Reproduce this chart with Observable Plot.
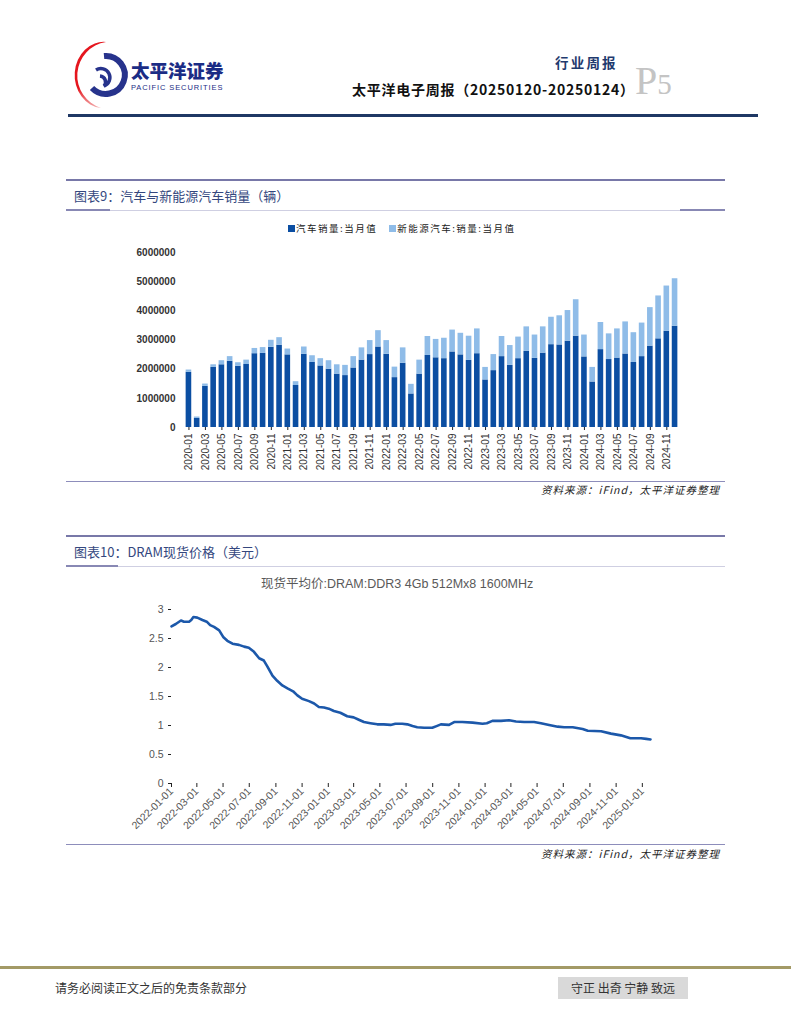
<!DOCTYPE html>
<html><head><meta charset="utf-8">
<script src="https://cdn.jsdelivr.net/npm/d3@7"></script>
<script src="https://cdn.jsdelivr.net/npm/@observablehq/plot@0.6"></script>
<style>
body{margin:0;width:791px;height:1024px;position:relative;background:#fff;font-family:"Noto Sans CJK SC",sans-serif;overflow:hidden}
.a{position:absolute;white-space:nowrap}
.sec{color:#34477e;font-size:13px;line-height:13px}
.src{font-style:italic;font-size:10.5px;line-height:11px;letter-spacing:1px;color:#222;font-family:"Noto Sans CJK SC",sans-serif}
</style></head><body>

<svg class="a" style="left:70px;top:38px" width="70" height="75" viewBox="70 38 70 75">
  <defs><linearGradient id="rg" x1="0" y1="0" x2="0" y2="1">
    <stop offset="0" stop-color="#e5161e"/><stop offset="0.7" stop-color="#e5161e"/><stop offset="1" stop-color="#f3b0b0"/></linearGradient></defs>
  <path d="M106 42 A34 34 0 0 0 101 108 A27 31 0 0 1 106 42 Z" fill="url(#rg)"/>
  <path d="M104 56 A19 19 0 1 1 92 88" fill="none" stroke="#27338c" stroke-width="6"/>
  <path d="M96 70 A9 9 0 1 1 104 86 A6 6 0 0 0 100 76" fill="none" stroke="#27338c" stroke-width="3.5"/>
</svg>
<div class="a" style="left:131px;top:61px;font-size:18.5px;line-height:19px;font-weight:900;color:#1b2c85">太平洋证券</div>
<div class="a" style="left:131px;top:84px;font-size:7.5px;line-height:8px;letter-spacing:0.9px;color:#1b2c85;font-family:'Liberation Sans',sans-serif">PACIFIC SECURITIES</div>

<div class="a" style="left:555px;top:55px;font-size:13.5px;line-height:14px;letter-spacing:2.2px;font-weight:700;color:#1f3a6e">行业周报</div>
<div class="a" style="left:352px;top:82px;font-size:14px;line-height:15px;letter-spacing:0.75px;font-weight:700;color:#111">太平洋电子周报（20250120-20250124）</div>
<div class="a" style="left:635px;top:60px;font-family:'Liberation Serif',serif;color:#c4c4c4;font-size:40px;line-height:42px">P<span style="font-size:29px">5</span></div>
<div class="a" style="left:68px;top:114px;width:690px;height:3px;background:#1f3864"></div>

<!-- section 1 -->
<div class="a" style="left:66px;top:179px;width:659px;height:2px;background:#7878a8"></div>
<div class="a sec" style="left:74px;top:189px">图表9：汽车与新能源汽车销量（辆）</div>
<div class="a" style="left:66px;top:210px;width:659px;height:1px;background:#cfcfe2"></div>
<div class="a" style="left:66px;top:209px;width:44px;height:2px;background:#8888b4"></div>
<div class="a" style="left:680px;top:209px;width:45px;height:2px;background:#8888b4"></div>
<div id="legend" class="a" style="left:288px;top:223px;font-size:9.5px;line-height:10px;letter-spacing:1.5px;color:#222"></div>
<div id="c1" class="a" style="left:0;top:240px"></div>
<div class="a" style="left:66px;top:481px;width:659px;height:1px;background:#8d8dbb"></div>
<div class="a src" style="right:71px;top:484px">资料来源：iFind，太平洋证券整理</div>

<!-- section 2 -->
<div class="a" style="left:66px;top:535px;width:659px;height:2px;background:#7878a8"></div>
<div class="a sec" style="left:74px;top:545px">图表10：DRAM现货价格（美元）</div>
<div class="a" style="left:66px;top:566px;width:659px;height:1px;background:#cfcfe2"></div>
<div class="a" style="left:66px;top:565px;width:52px;height:2px;background:#8888b4"></div>
<div id="t2" class="a" style="left:261px;top:578px;font-size:12.5px;line-height:13px;color:#595959;font-family:'Liberation Sans','Noto Sans CJK SC',sans-serif"></div>
<div id="c2" class="a" style="left:0;top:595px"></div>
<div class="a" style="left:66px;top:844px;width:659px;height:1px;background:#8d8dbb"></div>
<div class="a src" style="right:71px;top:848px">资料来源：iFind，太平洋证券整理</div>

<!-- footer -->
<div class="a" style="left:0;top:966px;width:791px;height:3px;background:#a39a66"></div>
<div class="a" style="left:55px;top:981px;font-size:12px;line-height:13px;color:#333">请务必阅读正文之后的免责条款部分</div>
<div class="a" style="left:558px;top:977px;width:130px;height:22px;background:#d9d9d9;font-size:12px;line-height:22px;color:#333;text-align:center">守正 出奇 宁静 致远</div>

<script>
// ---------- Chart 1 data ----------
const months = [
 "2020-01","2020-02","2020-03","2020-04","2020-05","2020-06","2020-07","2020-08","2020-09","2020-10","2020-11","2020-12",
 "2021-01","2021-02","2021-03","2021-04","2021-05","2021-06","2021-07","2021-08","2021-09","2021-10","2021-11","2021-12",
 "2022-01","2022-02","2022-03","2022-04","2022-05","2022-06","2022-07","2022-08","2022-09","2022-10","2022-11","2022-12",
 "2023-01","2023-02","2023-03","2023-04","2023-05","2023-06","2023-07","2023-08","2023-09","2023-10","2023-11","2023-12",
 "2024-01","2024-02","2024-03","2024-04","2024-05","2024-06","2024-07","2024-08","2024-09","2024-10","2024-11","2024-12"];
const autoSales = [
 1890000,310000,1410000,2060000,2150000,2270000,2100000,2160000,2530000,2540000,2750000,2820000,
 2490000,1440000,2510000,2230000,2110000,2000000,1830000,1780000,2040000,2310000,2500000,2760000,
 2510000,1710000,2200000,1150000,1830000,2470000,2390000,2360000,2590000,2490000,2300000,2530000,
 1630000,1950000,2430000,2130000,2360000,2610000,2370000,2550000,2840000,2830000,2960000,3130000,
 2420000,1560000,2670000,2330000,2380000,2520000,2230000,2430000,2790000,3040000,3300000,3470000];
const nevSales = [
 80000,50000,80000,90000,140000,160000,120000,150000,180000,200000,240000,260000,
 200000,130000,250000,230000,250000,290000,320000,350000,390000,420000,480000,560000,
 470000,360000,530000,330000,480000,650000,630000,700000,750000,740000,830000,850000,
 430000,550000,690000,680000,740000,840000,800000,900000,940000,1000000,1050000,1250000,
 750000,500000,930000,880000,1000000,1100000,1020000,1150000,1320000,1470000,1550000,1630000];
const seriesNames = ["汽车销量:当月值", "新能源汽车:销量:当月值"];
const seriesColors = ["#0b4ea2", "#8fbce8"];
const yTicks1 = [0,1000000,2000000,3000000,4000000,5000000,6000000];
const xTickLabels1 = months.filter((m,i)=> i % 2 === 0);

// ---------- Chart 2 data ----------
const chart2Title = "现货平均价:DRAM:DDR3 4Gb 512Mx8 1600MHz";
const dramDates = ["2022-01-01","2022-01-11","2022-01-23","2022-01-30","2022-02-11","2022-02-16","2022-02-21","2022-03-02","2022-03-14","2022-03-24",
 "2022-04-01","2022-04-10","2022-04-22","2022-05-02","2022-05-11","2022-05-23","2022-06-07","2022-06-19","2022-06-30","2022-07-12",
 "2022-07-24","2022-08-04","2022-08-12","2022-08-24","2022-09-04","2022-09-16","2022-09-28","2022-10-11","2022-10-21","2022-11-01",
 "2022-11-17","2022-11-29","2022-12-10","2022-12-22","2023-01-02","2023-01-14","2023-01-29","2023-02-14","2023-03-01","2023-03-13",
 "2023-03-25","2023-04-09","2023-04-25","2023-05-10","2023-05-26","2023-06-06","2023-06-22","2023-07-04","2023-07-16","2023-07-27",
 "2023-08-12","2023-08-31","2023-09-10","2023-09-20","2023-10-09","2023-10-21","2023-11-09","2023-12-03","2023-12-26","2024-01-05",
 "2024-01-18","2024-02-07","2024-02-26","2024-03-13","2024-04-01","2024-04-24","2024-05-10","2024-05-29","2024-06-18","2024-07-03",
 "2024-07-23","2024-08-15","2024-08-27","2024-09-27","2024-10-20","2024-11-12","2024-12-04","2024-12-29","2025-01-10","2025-01-20"];
const dramPrices = [2.71,2.75,2.81,2.79,2.79,2.82,2.87,2.86,2.82,2.79,
 2.73,2.70,2.64,2.52,2.46,2.41,2.39,2.36,2.34,2.27,
 2.16,2.12,2.02,1.86,1.77,1.69,1.64,1.59,1.52,1.46,
 1.42,1.38,1.32,1.31,1.29,1.25,1.22,1.16,1.14,1.10,
 1.06,1.04,1.02,1.02,1.01,1.03,1.03,1.02,0.99,0.97,
 0.96,0.96,0.99,1.02,1.01,1.06,1.06,1.05,1.03,1.04,
 1.08,1.08,1.09,1.07,1.06,1.06,1.04,1.01,0.98,0.97,
 0.97,0.94,0.91,0.90,0.86,0.83,0.78,0.78,0.77,0.76];
const yTicks2 = [0,0.5,1,1.5,2,2.5,3];
const xTickLabels2 = ["2022-01-01","2022-03-01","2022-05-01","2022-07-01","2022-09-01","2022-11-01",
 "2023-01-01","2023-03-01","2023-05-01","2023-07-01","2023-09-01","2023-11-01",
 "2024-01-01","2024-03-01","2024-05-01","2024-07-01","2024-09-01","2024-11-01","2025-01-01"];
const xDomain2 = ["2022-01-01","2025-01-20"];

// legend
const lg = document.getElementById("legend");
lg.innerHTML = seriesNames.map((n,i)=>`<span style="display:inline-block;width:7px;height:7px;background:${seriesColors[i]};margin-right:1px;vertical-align:0px"></span>${n}`).join('<span style="display:inline-block;width:12px"></span>');
document.getElementById("t2").textContent = chart2Title;

// chart 1
const rows = [];
months.forEach((m,i)=>{
  rows.push({month:m, series:seriesNames[0], value:autoSales[i]});
  rows.push({month:m, series:seriesNames[1], value:nevSales[i]});
});
const c1 = Plot.plot({
  width: 791, height: 250,
  marginLeft: 183, marginRight: 111, marginTop: 12, marginBottom: 63,
  style: {fontFamily: "'Liberation Sans', Arial, sans-serif", fontSize: "10px", color: "#333", background: "transparent"},
  x: {domain: months, padding: 0.32, round: false, label: null},
  y: {domain: [0, 6000000], label: null},
  color: {domain: seriesNames, range: seriesColors},
  marks: [
    Plot.barY(rows, {x: "month", y: "value", fill: "series"}),
    Plot.axisY({ticks: yTicks1, tickFormat: d => String(d), tickSize: 0, tickPadding: 8, line: true, label: null, fontWeight: "bold", stroke: "#222"}),
    Plot.axisX({ticks: xTickLabels1, tickRotate: -90, tickSize: 3, tickPadding: 3, line: true, label: null, stroke: "#222"})
  ]
});
document.getElementById("c1").appendChild(c1);

// chart 2
const dram = dramDates.map((d,i)=>({date: new Date(d), price: dramPrices[i]}));
const c2 = Plot.plot({
  width: 791, height: 260,
  marginLeft: 171, marginRight: 141, marginTop: 14, marginBottom: 72,
  style: {fontFamily: "'Liberation Sans', Arial, sans-serif", fontSize: "10.5px", color: "#555", background: "transparent"},
  x: {type: "utc", domain: xDomain2.map(d => new Date(d)), label: null},
  y: {domain: [0, 3], label: null},
  marks: [
    Plot.lineY(dram, {x: "date", y: "price", stroke: "#1c58aa", strokeWidth: 2.6}),
    Plot.axisY({ticks: yTicks2, tickFormat: d => String(d), tickSize: 3, tickPadding: 5, line: true, label: null, stroke: "#222"}),
    Plot.axisX({ticks: xTickLabels2.map(d => new Date(d)), tickFormat: d3.utcFormat("%Y-%m-%d"), tickRotate: -45, tickSize: 4, tickPadding: 2, line: true, label: null, stroke: "#222"})
  ]
});
document.getElementById("c2").appendChild(c2);
</script>
</body></html>
